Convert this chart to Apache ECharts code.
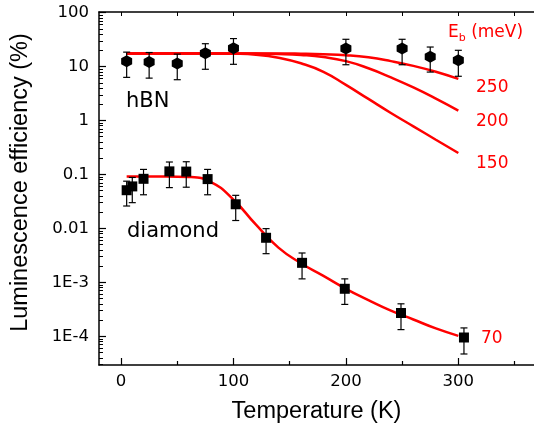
<!DOCTYPE html>
<html>
<head>
<meta charset="utf-8">
<script src="https://cdn.jsdelivr.net/npm/echarts@6/dist/echarts.min.js"></script>
<style>
  html, body { margin: 0; padding: 0; background: #fff; }
  #chart { width: 534px; height: 431px; }
</style>
</head>
<body>
<div id="chart"></div>
<script>
// y axis is drawn in log10 space, labels map back to these texts
var yTickLabels = [ '1E-4', '1E-3', '0.01', '0.1', '1', '10', '100' ];
var xMajor = [ 0, 100, 200, 300 ];
var xMinor = [ 50, 150, 250, 350 ];

// hBN measurements (%)
var hbnT   = [ 5, 25, 50, 75, 100, 200, 250, 275, 300 ];
var hbnEff = [ 12.6, 12.2, 11.4, 17.7, 21.9, 21.7, 21.5, 15.2, 13.1 ];
var hbnLo  = [ 6.3, 6.1, 5.7, 8.9, 11.0, 10.8, 10.8, 7.9, 6.6 ];
var hbnHi  = [ 18.5, 18.2, 17.0, 26.5, 33.0, 32.0, 32.0, 23.0, 20.0 ];

// diamond measurements (%)
var diaT   = [ 5, 10, 20, 43, 58, 77, 102, 129, 161, 199, 249, 305 ];
var diaEff = [ 0.051, 0.060, 0.083, 0.114, 0.113, 0.082, 0.028, 0.0067, 0.0023, 0.00076, 0.00027, 0.000095 ];
var diaLo  = [ 0.026, 0.030, 0.042, 0.057, 0.058, 0.042, 0.014, 0.0034, 0.00116, 0.00039, 0.000133, 0.000047 ];
var diaHi  = [ 0.075, 0.088, 0.124, 0.170, 0.172, 0.124, 0.041, 0.0099, 0.0035, 0.00116, 0.0004, 0.000143 ];

var fitT   = [ 5, 20, 40, 60, 80, 100, 120, 140, 160, 180, 200, 220, 240, 260, 280, 300 ];
var fit250 = [ 17.5, 17.5, 17.5, 17.5, 17.5, 17.5, 17.5, 17.5, 17.3, 16.9, 16.2, 14.8, 12.6, 10.3, 8.0, 5.9 ];
var fit200 = [ 17.5, 17.5, 17.5, 17.5, 17.5, 17.5, 17.4, 17.1, 16.4, 15.0, 12.6, 9.3, 6.3, 4.1, 2.55, 1.53 ];
var fit150 = [ 17.5, 17.5, 17.5, 17.5, 17.5, 17.3, 16.6, 14.6, 11.5, 8.0, 4.57, 2.51, 1.38, 0.78, 0.44, 0.25 ];
var fit70  = [ 0.092, 0.092, 0.092, 0.090, 0.072, 0.034, 0.0117, 0.0044, 0.00226, 0.00132, 0.00076, 0.00047, 0.00030, 0.000205, 0.000140, 0.000102 ];

var FONT = 'DejaVu Sans';
var TITLE_FONT = 'Liberation Sans';
var lg = function( v ) { return Math.log10( v ); };

function pairs( xs, ys ) {
  return xs.map( function( x, i ) { return [ x, lg( ys[ i ] ) ]; } );
}

// log-spaced minor ticks 2..9 per decade
var yMinor = [];
for( var d = -5; d <= 1; d++ ) {
  for( var k = 2; k <= 9; k++ ) {
    var v = d + Math.log10( k );
    if( v > -4.532 && v < 2.011 ) yMinor.push( v );
  }
}

function fitLine( ys ) {
  return {
    type: 'line',
    data: pairs( fitT, ys ),
    smooth: 0.5,
    showSymbol: false,
    lineStyle: { color: '#ff0000', width: 2.5 },
    z: 2
  };
}

function errorBars( xs, lo, hi ) {
  return {
    type: 'custom',
    data: xs.map( function( x, i ) { return [ x, lg( lo[ i ] ), lg( hi[ i ] ) ]; } ),
    renderItem: function( params, api ) {
      var a = api.coord( [ api.value( 0 ), api.value( 1 ) ] );
      var b = api.coord( [ api.value( 0 ), api.value( 2 ) ] );
      var w = 3.5, st = { stroke: '#000', lineWidth: 1.2 };
      return {
        type: 'group',
        children: [
          { type: 'line', shape: { x1: a[0], y1: a[1], x2: b[0], y2: b[1] }, style: st },
          { type: 'line', shape: { x1: a[0] - w, y1: a[1], x2: a[0] + w, y2: a[1] }, style: st },
          { type: 'line', shape: { x1: b[0] - w, y1: b[1], x2: b[0] + w, y2: b[1] }, style: st }
        ]
      };
    },
    z: 3
  };
}

var axisLine = { show: true, onZero: false, lineStyle: { color: '#000', width: 1.5 } };
var noLine = { show: false, onZero: false };

var chart = echarts.init( document.getElementById( 'chart' ) );
chart.setOption( {
  animation: false,
  grid: { left: 99, right: 0, top: 12, bottom: 66, outerBoundsMode: 'none' },
  xAxis: [ {
      type: 'value', position: 'bottom', min: -19.6, max: 367.3,
      axisLine: axisLine,
      axisTick: { inside: true, length: 7, customValues: xMajor, lineStyle: { color: '#000', width: 1.2 } },
      axisLabel: { customValues: xMajor, margin: 8, color: '#000', fontFamily: FONT, fontSize: 16.5 },
      splitLine: { show: false },
      name: 'Temperature (K)', nameLocation: 'middle', nameGap: 35,
      nameTextStyle: { color: '#000', fontFamily: TITLE_FONT, fontSize: 23.5 }
    }, {
      type: 'value', position: 'bottom', min: -19.6, max: 367.3,
      axisLine: noLine,
      axisTick: { inside: true, length: 4, customValues: xMinor, lineStyle: { color: '#000', width: 1.2 } },
      axisLabel: { show: false },
      splitLine: { show: false }
    }, {
      type: 'value', position: 'top', min: -19.6, max: 367.3,
      axisLine: axisLine,
      axisTick: { inside: true, length: 4, customValues: xMajor.concat( xMinor ), lineStyle: { color: '#000', width: 1 } },
      axisLabel: { show: false },
      splitLine: { show: false }
    } ],
  yAxis: [ {
      type: 'value', position: 'left', min: -4.532, max: 2.011,
      axisLine: axisLine,
      axisTick: { inside: true, length: 7, customValues: [ -4, -3, -2, -1, 0, 1, 2 ], lineStyle: { color: '#000', width: 1.2 } },
      axisLabel: {
        customValues: [ -4, -3, -2, -1, 0, 1, 2 ], margin: 10, color: '#000', fontFamily: FONT, fontSize: 16.5,
        formatter: function( v ) { return yTickLabels[ Math.round( v ) + 4 ]; }
      },
      splitLine: { show: false }
    }, {
      type: 'value', position: 'left', min: -4.532, max: 2.011,
      axisLine: noLine,
      axisTick: { inside: true, length: 4, customValues: yMinor, lineStyle: { color: '#000', width: 1 } },
      axisLabel: { show: false },
      splitLine: { show: false }
    } ],
  graphic: [
    { type: 'text', x: 21, y: 182.5, rotation: Math.PI / 2,
      style: { text: 'Luminescence efficiency (%)', font: '23.5px "Liberation Sans"', fill: '#000', align: 'center', verticalAlign: 'middle' } },
    { type: 'text', x: 126, y: 102, style: { text: 'hBN', font: '21px "DejaVu Sans"', fill: '#000', verticalAlign: 'middle' } },
    { type: 'text', x: 127, y: 232, style: { text: 'diamond', font: '21px "DejaVu Sans"', fill: '#000', verticalAlign: 'middle' } },
    { type: 'text', x: 448, y: 33, style: { text: '{e|E}{b|b}{e| (meV)}', verticalAlign: 'middle',
        rich: { e: { fontFamily: FONT, fontSize: 17, fill: '#ff0000' },
                b: { fontFamily: FONT, fontSize: 11, fill: '#ff0000', padding: [ 10, 0, 0, 0 ] } } } },
    { type: 'text', x: 476, y: 88, style: { text: '250', font: '17px "DejaVu Sans"', fill: '#ff0000', verticalAlign: 'middle' } },
    { type: 'text', x: 476, y: 122, style: { text: '200', font: '17px "DejaVu Sans"', fill: '#ff0000', verticalAlign: 'middle' } },
    { type: 'text', x: 476, y: 164, style: { text: '150', font: '17px "DejaVu Sans"', fill: '#ff0000', verticalAlign: 'middle' } },
    { type: 'text', x: 481, y: 339, style: { text: '70', font: '17px "DejaVu Sans"', fill: '#ff0000', verticalAlign: 'middle' } }
  ],
  series: [
    fitLine( fit250 ),
    fitLine( fit200 ),
    fitLine( fit150 ),
    fitLine( fit70 ),
    errorBars( hbnT, hbnLo, hbnHi ),
    errorBars( diaT, diaLo, diaHi ),
    {
      type: 'scatter', data: pairs( hbnT, hbnEff ),
      symbol: 'path://M0,-1L0.87,-0.5L0.87,0.5L0,1L-0.87,0.5L-0.87,-0.5Z', symbolSize: [ 11, 12 ],
      itemStyle: { color: '#000', opacity: 1 }, z: 4
    },
    {
      type: 'scatter', data: pairs( diaT, diaEff ),
      symbol: 'rect', symbolSize: 10,
      itemStyle: { color: '#000', opacity: 1 }, z: 4
    }
  ]
} );
</script>
</body>
</html>
